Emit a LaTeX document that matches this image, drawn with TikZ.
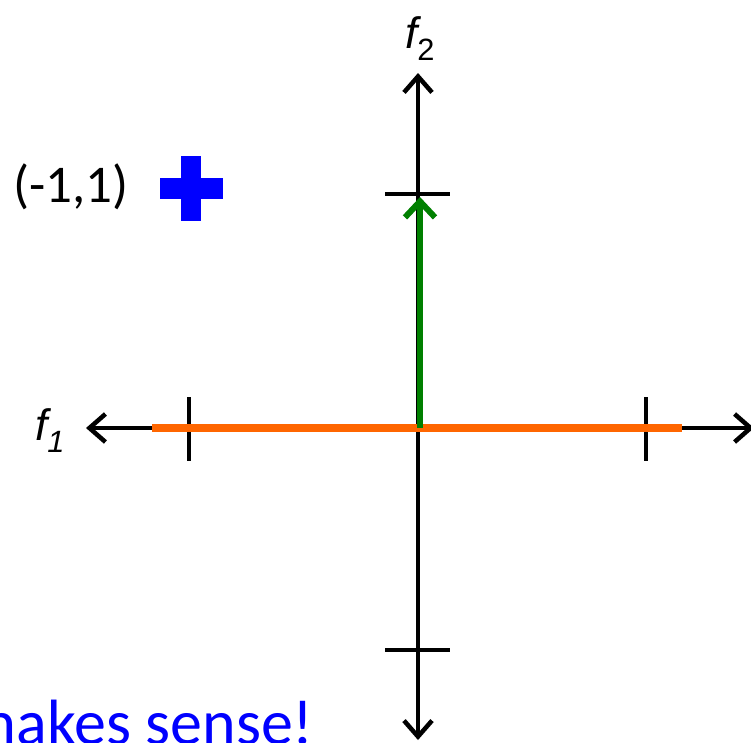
\documentclass[tikz,border=0pt]{standalone}
\usepackage{fontspec}
\setmainfont{Carlito}
\newfontfamily\arialf{Liberation Sans}
\usetikzlibrary{arrows.meta}
\definecolor{orng}{HTML}{FF6600}
\definecolor{grn}{HTML}{008000}
\definecolor{blu}{HTML}{0000FF}
\tikzset{
  axisline/.style={line width=4.5pt, black, arrows={Straight Barb[length=16pt,width=28pt,line width=4.5pt]-Straight Barb[length=16pt,width=28pt,line width=4.5pt]}},
  tick/.style={line width=4.5pt, black},
  lbl/.style={inner sep=0pt, font=\arialf\itshape\fontsize{44}{46}\selectfont},
}
\begin{document}
\begin{tikzpicture}[x=1pt,y=-1pt]
\useasboundingbox (0,0) rectangle (751,742);
\clip (0,0) rectangle (751,742);
\coordinate (O) at (418,428);
\coordinate (top) at (418,73);
\coordinate (bot) at (418,740);
\coordinate (lft) at (86,428);
\coordinate (rgt) at (754,428);
\coordinate (t1a) at (385,194); \coordinate (t1b) at (450,194);
\coordinate (t2a) at (385,650); \coordinate (t2b) at (450,650);
\coordinate (t3a) at (189,397); \coordinate (t3b) at (189,461);
\coordinate (t4a) at (646,397); \coordinate (t4b) at (646,461);
\coordinate (oa) at (152,428); \coordinate (ob) at (682,428);
\coordinate (ga) at (420,428); \coordinate (gb) at (420,197);
\draw[axisline] (lft) -- (rgt);
\draw[axisline] (bot) -- (top);
\foreach \a/\b in {t1a/t1b,t2a/t2b,t3a/t3b,t4a/t4b} \draw[tick] (\a) -- (\b);
\draw[line width=8pt, orng] (oa) -- (ob);
\draw[line width=6pt, grn, -{Straight Barb[length=16pt,width=30pt,line width=6pt]}] (ga) -- (gb);
% blue plus
\fill[blu] (160,178) rectangle (223,199);
\fill[blu] (181,156) rectangle (201,221);
\node[inner sep=0pt, font=\fontsize{53}{55}\selectfont] (pt) at (71,187) {(-1,1)};
\node[lbl, anchor=base] (f2) at (420,48) {f\textsubscript{\upshape 2}};
\node[lbl, anchor=base] (f1) at (50,440) {f\textsubscript{1}};
\node[inner sep=0pt, anchor=base east, text=blu, font=\fontsize{64}{66}\selectfont] (ms) at (314,744) {makes sense!};
\end{tikzpicture}
\end{document}
